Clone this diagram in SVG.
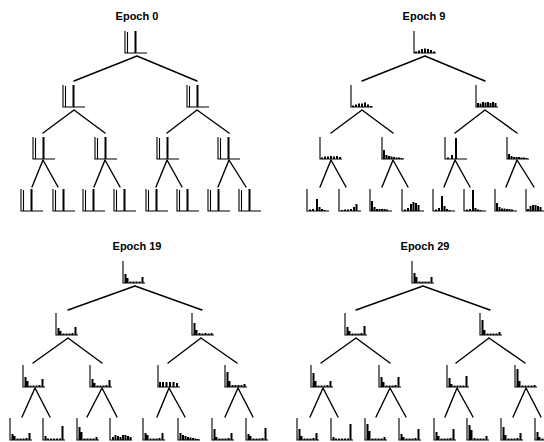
<svg xmlns="http://www.w3.org/2000/svg" xmlns:xlink="http://www.w3.org/1999/xlink" width="544" height="442" viewBox="0 0 544 442">
<style>
.title{font-family:"Liberation Sans",Arial,sans-serif;font-size:11px;font-weight:bold;text-anchor:middle;fill:#000}
.edge{stroke:#000;stroke-width:1.4;fill:none;stroke-linecap:round}
.ax{stroke:#000;stroke-width:1.1;fill:none}
.br{stroke:#000;stroke-width:2;fill:none}
</style>
<defs>
  <!-- two-peak histogram: axis, first bin, tall middle bin -->
  <g id="bimodal"><path class="ax" d="M0-22V0H22"/><path class="ax" d="M2.5-21V0"/><path class="br" d="M10.5 0v-22"/></g>
  <!-- histogram frame: tall first bin drawn as the axis, plus baseline -->
  <path id="axis" class="ax" d="M0-22V0H22"/>
</defs>
<rect width="544" height="442" fill="#fff"/>

<g id="titles">
  <text class="title" x="137" y="20">Epoch 0</text>
  <text class="title" x="424" y="20">Epoch 9</text>
  <text class="title" x="137" y="250">Epoch 19</text>
  <text class="title" x="425" y="250">Epoch 29</text>
</g>

<g id="connectors">
  <g id="edges-e0">
    <path class="edge" d="M137 56L74 81M137 56L197 81M74 110L43 133M74 110L105 133M197 110L167 133M197 110L229 133M43 160L32 187M43 160L58 187M105 160L94 187M105 160L120 187M167 160L156 187M167 160L182 187M229 160L218 187M229 160L246 187"/>
  </g>
  <g id="edges-e9" transform="translate(288 0)">
    <path class="edge" d="M137 56L74 81M137 56L197 81M74 110L43 133M74 110L105 133M197 110L167 133M197 110L229 133M43 160L32 187M43 160L58 187M105 160L94 187M105 160L120 187M167 160L156 187M167 160L182 187M229 160L218 187M229 160L246 187"/>
  </g>
  <g id="edges-e19">
    <path class="edge" d="M135 286L68 310M135 286L202 310M68 338L33 363M68 338L102 363M201 338L168 363M201 338L237 363M35 388L22 417M35 388L50 417M102 388L87 417M102 388L117 417M169 388L157 417M169 388L185 417M238 388L225 417M238 388L253 417"/>
  </g>
  <g id="edges-e29" transform="translate(288 0)">
    <path class="edge" d="M135 286L68 310M135 286L202 310M68 338L33 363M68 338L102 363M201 338L168 363M201 338L237 363M35 388L22 417M35 388L50 417M102 388L88 417M102 388L118 417M169 388L157 417M169 388L185 417M238 388L225 417M238 388L253 417"/>
  </g>
</g>

<!-- Epoch 0 -->
<g id="e0-n1" transform="translate(125 53)"><use href="#bimodal"/></g>
<g id="e0-n2" transform="translate(63 107)"><use href="#bimodal"/></g>
<g id="e0-n3" transform="translate(187 107)"><use href="#bimodal"/></g>
<g id="e0-n4" transform="translate(33 159)"><use href="#bimodal"/></g>
<g id="e0-n5" transform="translate(95 159)"><use href="#bimodal"/></g>
<g id="e0-n6" transform="translate(157 159)"><use href="#bimodal"/></g>
<g id="e0-n7" transform="translate(218 159)"><use href="#bimodal"/></g>
<g id="e0-n8" transform="translate(21 211)"><use href="#bimodal"/></g>
<g id="e0-n9" transform="translate(53 211)"><use href="#bimodal"/></g>
<g id="e0-n10" transform="translate(83 211)"><use href="#bimodal"/></g>
<g id="e0-n11" transform="translate(114 211)"><use href="#bimodal"/></g>
<g id="e0-n12" transform="translate(146 211)"><use href="#bimodal"/></g>
<g id="e0-n13" transform="translate(177 211)"><use href="#bimodal"/></g>
<g id="e0-n14" transform="translate(208 211)"><use href="#bimodal"/></g>
<g id="e0-n15" transform="translate(239 211)"><use href="#bimodal"/></g>

<!-- Epoch 9 -->
<g id="e9-n1" transform="translate(414 53)"><use href="#axis"/><path class="br" d="M2 0v-1.5M5 0v-2.5M8 0v-4M11 0v-4.5M14 0v-4M17 0v-3M20 0v-1.5"/></g>
<g id="e9-n2" transform="translate(351 107)"><use href="#axis"/><path class="br" d="M2 0v-1.5M5 0v-2.5M8 0v-3.5M11 0v-3.5M14 0v-4.5M17 0v-2.5M20 0v-1"/></g>
<g id="e9-n3" transform="translate(476 107)"><use href="#axis"/><path class="br" d="M2 0v-4M4.5 0v-3.5M7 0v-5M9.5 0v-4.5M12 0v-5M14.5 0v-4M17 0v-5M19.5 0v-4"/></g>
<g id="e9-n4" transform="translate(320 159)"><use href="#axis"/><path class="br" d="M2 0v-1.5M5 0v-2.5M8 0v-2.5M11 0v-3M14 0v-2.5M17 0v-3M20 0v-2"/></g>
<g id="e9-n5" transform="translate(382 159)"><use href="#axis"/><path class="br" d="M2 0v-9M4.5 0v-4M7 0v-3M9.5 0v-2.5M12 0v-2M14.5 0v-1.5M17 0v-1.5M19.5 0v-1"/></g>
<g id="e9-n6" transform="translate(445 159)"><use href="#axis"/><path class="br" d="M3 0v-1.5M7 0v-4M11 0v-21"/></g>
<g id="e9-n7" transform="translate(507 159)"><use href="#axis"/><path class="br" d="M2 0v-5M4.5 0v-3M7 0v-2M9.5 0v-2M12 0v-2M14.5 0v-1.5M17 0v-1.5M19.5 0v-1"/></g>
<g id="e9-n8" transform="translate(307 211)"><use href="#axis"/><path class="br" d="M3 0v-1.5M6 0v-2M10 0v-12M12.5 0v-4M15 0v-2M17.5 0v-1"/></g>
<g id="e9-n9" transform="translate(339 211)"><use href="#axis"/><path class="br" d="M3 0v-1M6 0v-1.5M9 0v-1.5M12 0v-2M15 0v-4M17.5 0v-7"/></g>
<g id="e9-n10" transform="translate(370 211)"><use href="#axis"/><path class="br" d="M2 0v-10M4.5 0v-4M7 0v-2M9.5 0v-2M12 0v-2M14.5 0v-2M17 0v-1.5"/></g>
<g id="e9-n11" transform="translate(402 211)"><use href="#axis"/><path class="br" d="M3 0v-1.5M6 0v-3M9 0v-7M11.5 0v-9M14 0v-8M16.5 0v-6"/></g>
<g id="e9-n12" transform="translate(433 211)"><use href="#axis"/><path class="br" d="M3 0v-1.5M6 0v-3M9 0v-15M11.5 0v-5M14 0v-2M16.5 0v-1"/></g>
<g id="e9-n13" transform="translate(464 211)"><use href="#axis"/><path class="br" d="M3 0v-1.5M6 0v-2M9 0v-21M11.5 0v-3M14 0v-1.5M16.5 0v-1"/></g>
<g id="e9-n14" transform="translate(495 211)"><use href="#axis"/><path class="br" d="M2 0v-8M4.5 0v-4M7 0v-2.5M9.5 0v-2.5M12 0v-2M14.5 0v-2M17 0v-1.5"/></g>
<g id="e9-n15" transform="translate(526 211)"><use href="#axis"/><path class="br" d="M2 0v-2M4.5 0v-5M7 0v-6M9.5 0v-6M12 0v-5M14.5 0v-4"/></g>

<!-- Epoch 19 -->
<g id="e19-n1" transform="translate(123 283)"><use href="#axis"/><path class="br" d="M2.5 0v-9M4.5 0v-5M7.5 0v-1.5M10.5 0v-1.5M13.5 0v-1.5M16.5 0v-1.5M19.5 0v-6"/></g>
<g id="e19-n2" transform="translate(56 335)"><use href="#axis"/><path class="br" d="M2.5 0v-7M4.5 0v-4M7.5 0v-1.5M10.5 0v-1.5M13.5 0v-1.5M16.5 0v-2M19.5 0v-8"/></g>
<g id="e19-n3" transform="translate(192 335)"><use href="#axis"/><path class="br" d="M2.5 0v-12M4.5 0v-5M7.5 0v-2M10.5 0v-1.5M13.5 0v-2M16.5 0v-1.5M19.5 0v-2"/></g>
<g id="e19-n4" transform="translate(23 387)"><use href="#axis"/><path class="br" d="M2.5 0v-10M4.5 0v-6M7.5 0v-1.5M10.5 0v-1.5M13.5 0v-1.5M16.5 0v-2M19.5 0v-8"/></g>
<g id="e19-n5" transform="translate(90 387)"><use href="#axis"/><path class="br" d="M2.5 0v-8M4.5 0v-4M7.5 0v-1.5M10.5 0v-1.5M13.5 0v-1.5M16.5 0v-2M19.5 0v-7"/></g>
<g id="e19-n6" transform="translate(158 387)"><use href="#axis"/><path class="br" d="M2 0v-5M5 0v-5M8.5 0v-5M12 0v-5M15.5 0v-5M19 0v-4"/></g>
<g id="e19-n7" transform="translate(225 387)"><use href="#axis"/><path class="br" d="M2.5 0v-15M4.5 0v-6M7.5 0v-2M10.5 0v-2M13.5 0v-2M16.5 0v-2M19.5 0v-3"/></g>
<g id="e19-n8" transform="translate(10 440)"><use href="#axis"/><path class="br" d="M2.5 0v-6M4.5 0v-4M7.5 0v-1.5M10.5 0v-1.5M13.5 0v-1.5M16.5 0v-2M19.5 0v-7"/></g>
<g id="e19-n9" transform="translate(43 440)"><use href="#axis"/><path class="br" d="M2.5 0v-4M5 0v-1.5M8 0v-1.5M11 0v-1.5M14 0v-1.5M17 0v-1.5M19.5 0v-14"/></g>
<g id="e19-n10" transform="translate(77 440)"><use href="#axis"/><path class="br" d="M2.5 0v-13M4.5 0v-8M7.5 0v-1.5M10.5 0v-1.5M13.5 0v-1.5M16.5 0v-1.5M19.5 0v-3"/></g>
<g id="e19-n11" transform="translate(110 440)"><use href="#axis"/><path class="br" d="M3 0v-3M5.5 0v-5M8 0v-4M10.5 0v-3M13 0v-5M15.5 0v-5M18 0v-4M20.5 0v-3"/></g>
<g id="e19-n12" transform="translate(143 440)"><use href="#axis"/><path class="br" d="M2.5 0v-7M4.5 0v-5M7.5 0v-1.5M10.5 0v-1.5M13.5 0v-1.5M16.5 0v-2M19.5 0v-7"/></g>
<g id="e19-n13" transform="translate(178 440)"><use href="#axis"/><path class="br" d="M2.5 0v-7M5 0v-5M7.5 0v-4M10 0v-3M12.5 0v-2.5M15 0v-2M17.5 0v-1.5M20 0v-1"/></g>
<g id="e19-n14" transform="translate(212 440)"><use href="#axis"/><path class="br" d="M2.5 0v-11M4.5 0v-3M7.5 0v-1.5M10.5 0v-1.5M13.5 0v-1.5M16.5 0v-2M19.5 0v-7"/></g>
<g id="e19-n15" transform="translate(246 440)"><use href="#axis"/><path class="br" d="M2.5 0v-6M4.5 0v-4M7.5 0v-1.5M10.5 0v-1.5M13.5 0v-1.5M16.5 0v-2M19.5 0v-12"/></g>

<!-- Epoch 29 -->
<g id="e29-n1" transform="translate(412 283)"><use href="#axis"/><path class="br" d="M2.5 0v-10M4.5 0v-6M7.5 0v-1.5M10.5 0v-1.5M13.5 0v-1.5M16.5 0v-1.5M19.5 0v-6"/></g>
<g id="e29-n2" transform="translate(345 335)"><use href="#axis"/><path class="br" d="M2.5 0v-8M4.5 0v-4M7.5 0v-1.5M10.5 0v-1.5M13.5 0v-1.5M16.5 0v-2M19.5 0v-9"/></g>
<g id="e29-n3" transform="translate(480 335)"><use href="#axis"/><path class="br" d="M2.5 0v-15M4.5 0v-5M7.5 0v-1.5M10.5 0v-1.5M13.5 0v-1.5M16.5 0v-1.5M19.5 0v-3"/></g>
<g id="e29-n4" transform="translate(311 387)"><use href="#axis"/><path class="br" d="M2.5 0v-14M4.5 0v-6M7.5 0v-1.5M10.5 0v-1.5M13.5 0v-1.5M16.5 0v-2M19.5 0v-6"/></g>
<g id="e29-n5" transform="translate(379 387)"><use href="#axis"/><path class="br" d="M2.5 0v-10M4.5 0v-5M7.5 0v-1.5M10.5 0v-1.5M13.5 0v-1.5M16.5 0v-2M19.5 0v-10"/></g>
<g id="e29-n6" transform="translate(447 387)"><use href="#axis"/><path class="br" d="M2.5 0v-9M4.5 0v-3M7.5 0v-1.5M10.5 0v-1.5M13.5 0v-1.5M16.5 0v-1.5M19.5 0v-11"/></g>
<g id="e29-n7" transform="translate(515 387)"><use href="#axis"/><path class="br" d="M2.5 0v-18M4.5 0v-6M7.5 0v-1.5M10.5 0v-1.5M13.5 0v-1.5M16.5 0v-1.5M19.5 0v-2"/></g>
<g id="e29-n8" transform="translate(297 440)"><use href="#axis"/><path class="br" d="M2.5 0v-11M4.5 0v-4M7.5 0v-1.5M10.5 0v-1.5M13.5 0v-1.5M16.5 0v-2M19.5 0v-7"/></g>
<g id="e29-n9" transform="translate(331 440)"><use href="#axis"/><path class="br" d="M2.5 0v-3M5 0v-1.5M8 0v-1.5M11 0v-1.5M14 0v-1.5M17 0v-1.5M19.5 0v-16"/></g>
<g id="e29-n10" transform="translate(365 440)"><use href="#axis"/><path class="br" d="M2.5 0v-16M4.5 0v-9M7.5 0v-1.5M10.5 0v-1.5M13.5 0v-1.5M16.5 0v-1.5M19.5 0v-3"/></g>
<g id="e29-n11" transform="translate(399 440)"><use href="#axis"/><path class="br" d="M2.5 0v-6M4.5 0v-3M7.5 0v-1.5M10.5 0v-1.5M13.5 0v-1.5M16.5 0v-2M19.5 0v-11"/></g>
<g id="e29-n12" transform="translate(434 440)"><use href="#axis"/><path class="br" d="M2.5 0v-8M4.5 0v-4M7.5 0v-1.5M10.5 0v-1.5M13.5 0v-1.5M16.5 0v-2M19.5 0v-11"/></g>
<g id="e29-n13" transform="translate(467 440)"><use href="#axis"/><path class="br" d="M2.5 0v-15M4.5 0v-10M7.5 0v-2M10.5 0v-1.5M13.5 0v-1.5M16.5 0v-1.5M19.5 0v-4"/></g>
<g id="e29-n14" transform="translate(501 440)"><use href="#axis"/><path class="br" d="M2.5 0v-13M4.5 0v-5M7.5 0v-1.5M10.5 0v-1.5M13.5 0v-1.5M16.5 0v-2M19.5 0v-7"/></g>
<g id="e29-n15" transform="translate(535 440)"><use href="#axis"/><path class="br" d="M2.5 0v-8M4.5 0v-3M7.5 0v-1.5"/></g>
</svg>
